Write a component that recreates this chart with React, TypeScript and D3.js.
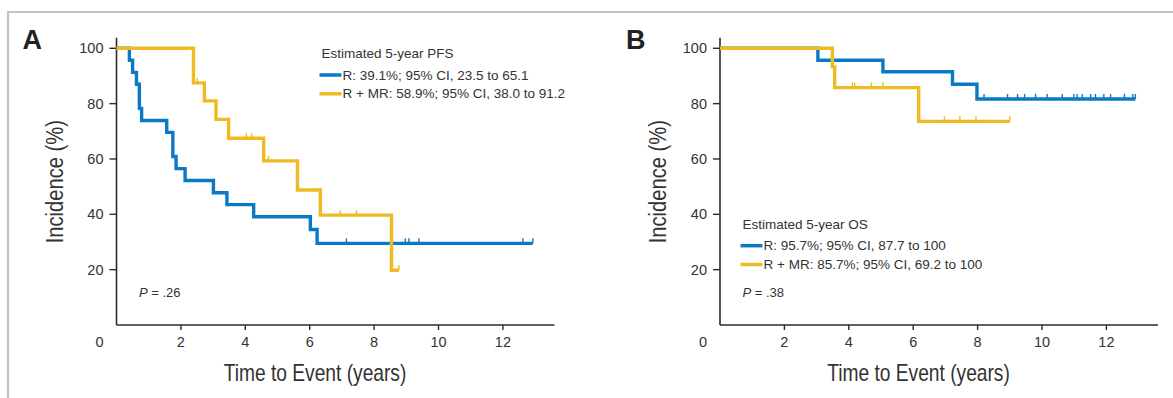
import * as d3 from "d3";
import React, { useEffect, useRef } from "react";

// PFS, panel A
const pfsRTimes = [0, 0.4, 0.5, 0.62, 0.71, 0.78, 1.56, 1.75, 1.85, 2.13, 3.01, 3.43, 4.26, 6.02, 6.23, 12.93];
const pfsRValues = [100, 95.7, 91.3, 87.0, 78.3, 73.9, 69.6, 60.9, 56.5, 52.2, 47.8, 43.5, 39.1, 34.5, 29.5, 29.5];
const pfsRCensor = [7.14, 8.97, 9.08, 9.39, 12.62, 12.93];

const pfsMRTimes = [0, 2.39, 2.73, 3.09, 3.48, 4.57, 5.62, 6.33, 8.54, 8.77];
const pfsMRValues = [100, 87.5, 81.0, 74.3, 67.5, 59.3, 48.8, 39.7, 19.8, 19.8];
const pfsMRCensor = [2.51, 4.03, 4.2, 4.72, 6.95, 7.45, 8.77];

// OS, panel B
const osRTimes = [0, 3.04, 5.06, 7.22, 7.98, 12.9];
const osRValues = [100, 95.7, 91.5, 87.0, 81.7, 81.7];
const osRCensor = [8.2, 8.93, 9.24, 9.46, 9.8, 10.16, 10.63, 10.99, 11.09, 11.25, 11.51, 11.66, 11.92, 12.13, 12.56, 12.82, 12.9];

const osMRTimes = [0, 3.49, 3.56, 6.17, 9.0];
const osMRValues = [100, 93.3, 85.8, 73.6, 73.6];
const osMRCensor = [4.11, 4.18, 4.7, 5.06, 6.97, 7.45, 7.95, 9.0];

const xTicks = [2, 4, 6, 8, 10, 12];
const yTicks = [20, 40, 60, 80, 100];

const pfsLegend = ["Estimated 5-year PFS", "R: 39.1%; 95% CI, 23.5 to 65.1", "R + MR: 58.9%; 95% CI, 38.0 to 91.2"];
const osLegend = ["Estimated 5-year OS", "R: 95.7%; 95% CI, 87.7 to 100", "R + MR: 85.7%; 95% CI, 69.2 to 100"];

const BLUE = "#0b7ac6";
const YELLOW = "#efba22";
const FONT = "'Liberation Sans', Arial, sans-serif";

const drawPanel = (g, opts) => {
  const { x0, letter, series, legend, legendX, legendY, pText } = opts;

  const x = d3.scaleLinear().domain([0, 13.6]).range([x0, x0 + 13.6 * 32.2]);
  const y = d3.scaleLinear().domain([0, 100]).range([325, 48.3]);

  // axes
  g.append("line")
    .attr("x1", x(0)).attr("x2", x(0))
    .attr("y1", y(0)).attr("y2", y(103.8))
    .attr("stroke", "#2b2b2b").attr("stroke-width", 1.6);
  g.append("line")
    .attr("x1", x(0)).attr("x2", x(13.6))
    .attr("y1", y(0)).attr("y2", y(0))
    .attr("stroke", "#2b2b2b").attr("stroke-width", 1.6);

  yTicks.forEach((v) => {
    g.append("line")
      .attr("x1", x(0) - 7).attr("x2", x(0))
      .attr("y1", y(v)).attr("y2", y(v))
      .attr("stroke", "#2b2b2b").attr("stroke-width", 1.4);
    g.append("text")
      .attr("x", x(0) - 13).attr("y", y(v) + 5)
      .attr("text-anchor", "end")
      .attr("font-family", FONT).attr("font-size", 14.5)
      .attr("fill", "#333")
      .text(v);
  });

  xTicks.forEach((t) => {
    g.append("line")
      .attr("x1", x(t)).attr("x2", x(t))
      .attr("y1", y(0)).attr("y2", y(0) + 5)
      .attr("stroke", "#2b2b2b").attr("stroke-width", 1.4);
    g.append("text")
      .attr("x", x(t)).attr("y", 346.5)
      .attr("text-anchor", "middle")
      .attr("font-family", FONT).attr("font-size", 14.5)
      .attr("fill", "#333")
      .text(t);
  });
  g.append("text")
    .attr("x", x(0) - 17).attr("y", 346.5)
    .attr("text-anchor", "middle")
    .attr("font-family", FONT).attr("font-size", 14.5)
    .attr("fill", "#333")
    .text("0");

  // titles, squeezed to look condensed
  g.append("text")
    .attr("transform", `translate(${x(0) + 198.5},381) scale(0.8,1)`)
    .attr("text-anchor", "middle")
    .attr("font-family", FONT).attr("font-size", 24)
    .attr("fill", "#333")
    .text("Time to Event (years)");
  g.append("text")
    .attr("transform", `translate(${x(0) - 54},181.7) rotate(-90) scale(0.84,1)`)
    .attr("text-anchor", "middle")
    .attr("font-family", FONT).attr("font-size", 24)
    .attr("fill", "#333")
    .text("Incidence (%)");

  g.append("text")
    .attr("x", x(0) - 94).attr("y", 49)
    .attr("font-family", FONT).attr("font-size", 27).attr("font-weight", "bold")
    .attr("fill", "#222")
    .text(letter);

  // curves
  const line = d3.line()
    .x((d) => x(d[0]))
    .y((d) => y(d[1]))
    .curve(d3.curveStepAfter);

  series.forEach((s) => {
    const pts = s.times.map((t, i) => [t, s.values[i]]);
    g.append("path")
      .attr("d", line(pts))
      .attr("fill", "none")
      .attr("stroke", s.color)
      .attr("stroke-width", 3.4);

    const valueAt = (t) => {
      let v = s.values[0];
      s.times.forEach((tt, i) => {
        if (tt <= t) v = s.values[i];
      });
      return v;
    };
    s.censor.forEach((t) => {
      g.append("line")
        .attr("x1", x(t)).attr("x2", x(t))
        .attr("y1", y(valueAt(t)))
        .attr("y2", y(valueAt(t)) - 5)
        .attr("stroke", s.color)
        .attr("stroke-width", 1.4);
    });
  });

  // legend
  g.append("text")
    .attr("x", legendX).attr("y", legendY + 4.5)
    .attr("font-family", FONT).attr("font-size", 13.5)
    .attr("fill", "#333")
    .text(legend[0]);
  [1, 2].forEach((i) => {
    const ly = legendY + 21.7 + (i - 1) * 18.8;
    g.append("line")
      .attr("x1", legendX - 2).attr("x2", legendX + 20)
      .attr("y1", ly).attr("y2", ly)
      .attr("stroke", series[i - 1].color)
      .attr("stroke-width", 3.5);
    g.append("text")
      .attr("x", legendX + 21).attr("y", ly + 4.5)
      .attr("font-family", FONT).attr("font-size", 13.5)
      .attr("fill", "#333")
      .text(legend[i]);
  });

  const p = g.append("text")
    .attr("x", x(0) + 22.5).attr("y", 296.5)
    .attr("font-family", FONT).attr("font-size", 13)
    .attr("fill", "#333");
  p.append("tspan").attr("font-style", "italic").text("P");
  p.append("tspan").text(" = " + pText);
};

const App = () => {
  const ref = useRef(null);

  useEffect(() => {
    const svg = d3.select(ref.current);
    svg.selectAll("*").remove();

    svg.append("rect")
      .attr("width", 1173).attr("height", 398)
      .attr("fill", "#fff");

    // outer frame
    svg.append("path")
      .attr("d", "M8,398 L8,12 L1173,12")
      .attr("fill", "none")
      .attr("stroke", "#c4c4c4")
      .attr("stroke-width", 2.2);

    drawPanel(svg.append("g"), {
      x0: 116.5,
      letter: "A",
      series: [
        { times: pfsRTimes, values: pfsRValues, censor: pfsRCensor, color: BLUE },
        { times: pfsMRTimes, values: pfsMRValues, censor: pfsMRCensor, color: YELLOW },
      ],
      legend: pfsLegend,
      legendX: 321.5,
      legendY: 53.3,
      pText: ".26",
    });

    drawPanel(svg.append("g"), {
      x0: 720,
      letter: "B",
      series: [
        { times: osRTimes, values: osRValues, censor: osRCensor, color: BLUE },
        { times: osMRTimes, values: osMRValues, censor: osMRCensor, color: YELLOW },
      ],
      legend: osLegend,
      legendX: 742.5,
      legendY: 224,
      pText: ".38",
    });
  }, []);

  return (
    <svg
      ref={ref}
      width={1173}
      height={398}
      style={{ position: "absolute", left: 0, top: 0, display: "block" }}
    />
  );
};

export default App;
